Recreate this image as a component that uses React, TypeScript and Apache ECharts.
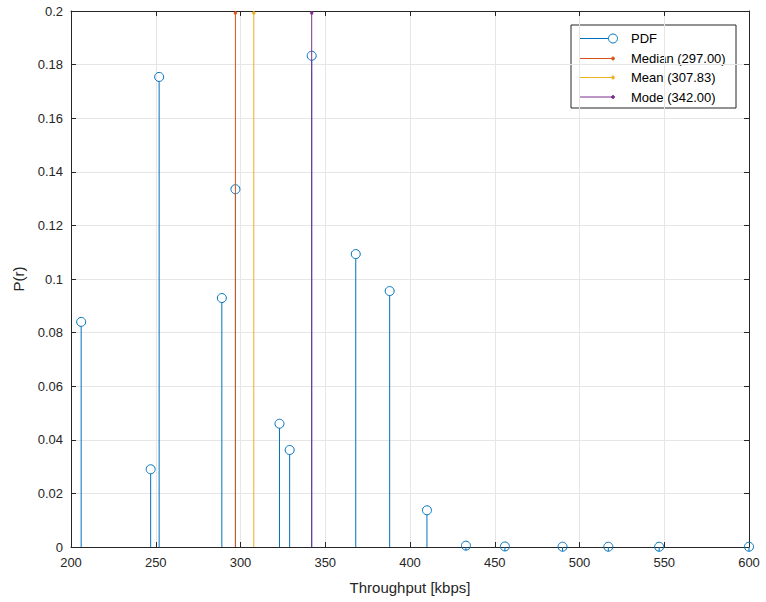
import React, { useEffect, useRef } from "react";
import * as echarts from "echarts";

const throughput = [206, 247, 252, 289, 297, 323, 329, 342, 368, 388, 410, 433, 456, 490, 517, 547, 600];
const probability = [0.084, 0.029, 0.1754, 0.0929, 0.1335, 0.046, 0.0362, 0.1833, 0.1093, 0.0955, 0.0137, 0.0005, 0.0002, 0.0001, 0.0001, 0.0001, 0.0001];
const statNames = ["Median (297.00)", "Mean (307.83)", "Mode (342.00)"];
const statValues = [297, 307.83, 342];
const statColors = ["#D95319", "#EDB120", "#7E2F8E"];
const pdfColor = "#0072BD";
const xTicks = { min: 200, max: 600, interval: 50 };
const yTicks = { min: 0, max: 0.2, interval: 0.02 };

export default function App() {
  const ref = useRef<HTMLDivElement>(null);
  useEffect(() => {
    if (!ref.current) return;
    const chart = echarts.init(ref.current, null, { renderer: "svg" });
    const font = "Liberation Sans, Arial, sans-serif";
    const axisText = { color: "#262626", fontSize: 13, fontFamily: font };
    const lineCol = "#262626";
    const stemData = throughput.map((x, i) => [x, probability[i]]);

    const legendX = 571, legendY = 25;
    const rowYs = [38.5, 58.5, 77.5, 97];
    const children: any[] = [
      { type: "rect", shape: { x: legendX, y: legendY, width: 165, height: 83 }, style: { fill: "#fff", stroke: lineCol, lineWidth: 1 } },
      { type: "line", shape: { x1: 580, y1: rowYs[0], x2: 613, y2: rowYs[0] }, style: { stroke: pdfColor, lineWidth: 1 } },
      { type: "circle", shape: { cx: 613, cy: rowYs[0], r: 4.5 }, style: { fill: "#fff", stroke: pdfColor, lineWidth: 1 } },
      { type: "text", x: 631, y: rowYs[0], style: { text: "PDF", fill: "#000", fontSize: 13, fontFamily: font, verticalAlign: "middle" } },
    ];
    statNames.forEach((n, i) => {
      const y = rowYs[i + 1];
      children.push(
        { type: "line", shape: { x1: 580, y1: y, x2: 613, y2: y }, style: { stroke: statColors[i], lineWidth: 1 } },
        { type: "circle", shape: { cx: 613, cy: y, r: 1.5 }, style: { fill: statColors[i], stroke: statColors[i] } },
        { type: "text", x: 631, y, style: { text: n, fill: "#000", fontSize: 13, fontFamily: font, verticalAlign: "middle" } }
      );
    });

    const option: any = {
      animation: false,
      backgroundColor: "#fff",
      grid: { left: 71, right: 17, top: 11, bottom: 55 },
      xAxis: [
        {
          type: "value", ...xTicks, position: "bottom",
          name: "Throughput [kbps]", nameLocation: "middle", nameGap: 33,
          nameTextStyle: { color: "#262626", fontSize: 15, fontFamily: font },
          axisLine: { show: true, onZero: false, lineStyle: { color: lineCol, width: 1 } },
          axisTick: { show: true, inside: true, length: 5, lineStyle: { color: lineCol } },
          axisLabel: { ...axisText, margin: 9 },
          splitLine: { show: true, lineStyle: { color: "#e6e6e6", width: 1 } },
        },
        {
          type: "value", ...xTicks, position: "top",
          axisLine: { show: true, onZero: false, lineStyle: { color: lineCol, width: 1 } },
          axisTick: { show: true, inside: true, length: 5, lineStyle: { color: lineCol } },
          axisLabel: { show: false }, splitLine: { show: false },
        },
      ],
      yAxis: [
        {
          type: "value", ...yTicks, position: "left",
          name: "P(r)", nameLocation: "middle", nameGap: 45,
          nameTextStyle: { color: "#262626", fontSize: 15, fontFamily: font },
          axisLine: { show: true, onZero: false, lineStyle: { color: lineCol, width: 1 } },
          axisTick: { show: true, inside: true, length: 5, lineStyle: { color: lineCol } },
          axisLabel: { ...axisText, margin: 8, formatter: (v: number) => String(+v.toFixed(2)) },
          splitLine: { show: true, lineStyle: { color: "#e6e6e6", width: 1 } },
        },
        {
          type: "value", ...yTicks, position: "right",
          axisLine: { show: true, onZero: false, lineStyle: { color: lineCol, width: 1 } },
          axisTick: { show: true, inside: true, length: 5, lineStyle: { color: lineCol } },
          axisLabel: { show: false }, splitLine: { show: false },
        },
      ],
      series: [
        {
          name: "PDF",
          type: "custom",
          data: stemData,
          clip: false,
          z: 2,
          renderItem: (params: any, api: any) => {
            const top = api.coord([api.value(0), api.value(1)]);
            const base = api.coord([api.value(0), 0]);
            return {
              type: "group",
              children: [
                { type: "line", shape: { x1: base[0], y1: base[1], x2: top[0], y2: top[1] + 4.5 }, style: { stroke: pdfColor, lineWidth: 1 } },
                { type: "circle", shape: { cx: top[0], cy: top[1], r: 4.5 }, style: { fill: "none", stroke: pdfColor, lineWidth: 1 } },
              ],
            };
          },
        },
        ...statNames.map((n, i) => ({
          name: n,
          type: "custom",
          data: [[statValues[i], yTicks.max]],
          clip: false,
          z: 3,
          renderItem: (params: any, api: any) => {
            const top = api.coord([api.value(0), api.value(1)]);
            const base = api.coord([api.value(0), 0]);
            return {
              type: "group",
              children: [
                { type: "line", shape: { x1: base[0], y1: base[1], x2: top[0], y2: top[1] }, style: { stroke: statColors[i], lineWidth: 1 } },
                { type: "circle", shape: { cx: top[0], cy: top[1] + 2, r: 1.5 }, style: { fill: statColors[i], stroke: statColors[i], lineWidth: 0.5 } },
              ],
            };
          },
        })),
      ],
      graphic: [{ type: "group", z: 100, children }],
    };
    chart.setOption(option);
    return () => chart.dispose();
  }, []);
  return <div ref={ref} style={{ position: "fixed", left: 0, top: 0, width: 766, height: 602, background: "#fff" }} />;
}
